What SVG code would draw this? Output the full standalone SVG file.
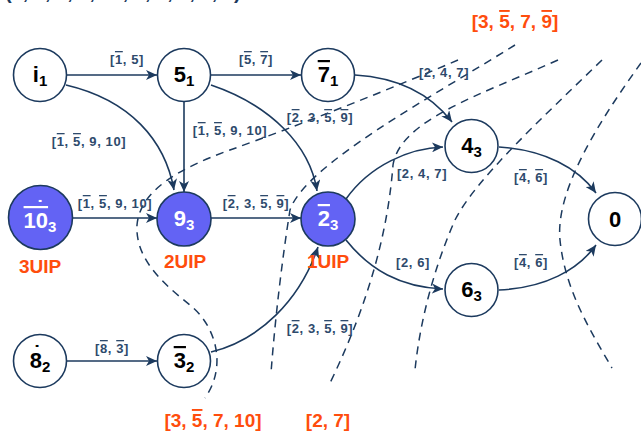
<svg xmlns="http://www.w3.org/2000/svg" width="641" height="432" viewBox="0 0 641 432">
<defs>
<marker id="arr" markerUnits="userSpaceOnUse" markerWidth="12" markerHeight="10" refX="11" refY="5" orient="auto">
<path d="M0,0 L11,5 L0,10 L3,5 z" fill="#1c3a5e"/>
</marker>
<style>
.n{fill:#fff;stroke:#1c3a5e;stroke-width:1.6}
.f{fill:#6363f4;stroke:#1c3a5e;stroke-width:1.6}
.t{font-family:"Liberation Sans",Arial,sans-serif;font-weight:bold;font-size:22px;fill:#000;text-anchor:middle}
.tw{fill:#fff}
.s{font-size:15px}
.dot{font-size:20px}
.e{fill:none;stroke:#1c3a5e;stroke-width:1.6}
.d{fill:none;stroke:#1c3a5e;stroke-width:1.5;stroke-dasharray:8 6}
.l{font-family:"Liberation Sans",Arial,sans-serif;font-weight:bold;font-size:13px;letter-spacing:0.6px;fill:#2e4a6c;text-anchor:middle}
.o{font-family:"Liberation Sans",Arial,sans-serif;font-weight:bold;font-size:19px;fill:#ff4d0d;text-anchor:middle}
.ov{text-decoration:overline}
</style>
</defs>
<text x="5" y="-1" style="font-family:'Liberation Sans',Arial,sans-serif;font-weight:bold;font-size:20px;fill:#1c3a5e">(1, 5, 7, 9, 10, 2, 3, 4, 6, 8)</text>
<g id="cuts">
<path class="d" d="M458,60 C400,85 300,125 230,150 C180,168 140,190 137,225 C135,260 165,285 190,305 C215,325 228,365 205,398"/>
<path class="d" d="M515,45 C430,98 305,165 290,210 C282,260 275,320 271,373"/>
<path class="d" d="M558,60 C480,95 400,120 393,165 C388,230 370,300 330,383"/>
<path class="d" d="M602,60 C540,120 475,180 455,220 C435,265 420,320 415,370"/>
<path class="d" d="M641,63 C600,120 555,190 560,240 C565,290 590,330 612,368"/>
</g>
<g id="connectors">
<path class="e" marker-end="url(#arr)" d="M67,75 L157,75"/>
<path class="e" marker-end="url(#arr)" d="M211,75 L301,75"/>
<path class="e" marker-end="url(#arr)" d="M184,102 L184,192"/>
<path class="e" marker-end="url(#arr)" d="M66,85 C130,100 165,140 174,190"/>
<path class="e" marker-end="url(#arr)" d="M211,85 C270,105 310,145 317,191"/>
<path class="e" marker-end="url(#arr)" d="M355,75 C405,78 435,100 452,122"/>
<path class="e" marker-end="url(#arr)" d="M73,218 L157,218"/>
<path class="e" marker-end="url(#arr)" d="M211,218 L301,218"/>
<path class="e" marker-end="url(#arr)" d="M346,199 C370,165 410,148 443,147"/>
<path class="e" marker-end="url(#arr)" d="M346,240 C370,270 400,287 443,289"/>
<path class="e" marker-end="url(#arr)" d="M499,147 C545,150 578,168 596,193"/>
<path class="e" marker-end="url(#arr)" d="M499,290 C545,288 578,270 596,245"/>
<path class="e" marker-end="url(#arr)" d="M67,361 L157,361"/>
<path class="e" marker-end="url(#arr)" d="M211,352 C260,340 300,300 318,247"/>
<text class="l" x="127" y="64">[<tspan class="ov">1</tspan>, 5]</text>
<text class="l" x="256" y="64">[<tspan class="ov">5</tspan>, <tspan class="ov">7</tspan>]</text>
<text class="l" x="89" y="146">[<tspan class="ov">1</tspan>, <tspan class="ov">5</tspan>, 9, 10]</text>
<text class="l" x="230" y="135">[<tspan class="ov">1</tspan>, <tspan class="ov">5</tspan>, 9, 10]</text>
<text class="l" x="320" y="122">[<tspan class="ov">2</tspan>, 3, <tspan class="ov">5</tspan>, <tspan class="ov">9</tspan>]</text>
<text class="l" x="444" y="77">[2, 4, 7]</text>
<text class="l" x="115" y="208">[<tspan class="ov">1</tspan>, <tspan class="ov">5</tspan>, 9, 10]</text>
<text class="l" x="256" y="208">[<tspan class="ov">2</tspan>, 3, <tspan class="ov">5</tspan>, <tspan class="ov">9</tspan>]</text>
<text class="l" x="422" y="178">[2, 4, 7]</text>
<text class="l" x="531" y="182">[<tspan class="ov">4</tspan>, <tspan class="ov">6</tspan>]</text>
<text class="l" x="413" y="267">[2, 6]</text>
<text class="l" x="531" y="267">[<tspan class="ov">4</tspan>, <tspan class="ov">6</tspan>]</text>
<text class="l" x="112" y="353">[<tspan class="ov">8</tspan>, <tspan class="ov">3</tspan>]</text>
<text class="l" x="320" y="333">[<tspan class="ov">2</tspan>, 3, <tspan class="ov">5</tspan>, <tspan class="ov">9</tspan>]</text>
</g>
<g id="n_i1"><circle class="n" cx="40" cy="75" r="26.5"/><text class="t" x="40" y="82">i<tspan class="s" dy="4">1</tspan></text></g>
<g id="n_51"><circle class="n" cx="184" cy="75" r="26.5"/><text class="t" x="184" y="82">5<tspan class="s" dy="4">1</tspan></text></g>
<g id="n_71"><circle class="n" cx="328" cy="75" r="26.5"/><text class="t" x="328" y="82"><tspan class="ov">7</tspan><tspan class="s" dy="4">1</tspan></text></g>
<g id="n_43"><circle class="n" cx="471.5" cy="146" r="26.5"/><text class="t" x="471.5" y="153">4<tspan class="s" dy="4">3</tspan></text></g>
<g id="n_0"><circle class="n" cx="615" cy="219" r="26.5"/><text class="t" x="615" y="227">0</text></g>
<g id="n_63"><circle class="n" cx="471.5" cy="290" r="26.5"/><text class="t" x="471.5" y="297">6<tspan class="s" dy="4">3</tspan></text></g>
<g id="n_103"><circle class="f" cx="40.5" cy="217.5" r="32"/><text class="t tw"><tspan class="dot" x="40" y="215">˙</tspan><tspan class="ov" x="40" y="228">10</tspan><tspan class="s" dy="4">3</tspan></text><text class="o" x="40" y="273">3UIP</text></g>
<g id="n_93"><circle class="f" cx="184" cy="219" r="27"/><text class="t tw" x="184" y="226">9<tspan class="s" dy="4">3</tspan></text><text class="o" x="185" y="268">2UIP</text></g>
<g id="n_23"><circle class="f" cx="328" cy="219" r="27"/><text class="t tw" x="328" y="226"><tspan class="ov">2</tspan><tspan class="s" dy="4">3</tspan></text><text class="o" x="328" y="268">1UIP</text></g>
<g id="n_82"><circle class="n" cx="40" cy="361" r="26.5"/><text class="t"><tspan class="dot" x="37" y="360">˙</tspan><tspan x="40" y="368">8</tspan><tspan class="s" dy="4">2</tspan></text></g>
<g id="n_32"><circle class="n" cx="184" cy="361" r="26.5"/><text class="t" x="184" y="368"><tspan class="ov">3</tspan><tspan class="s" dy="4">2</tspan></text></g>
<g id="cut_labels">
<text class="o" x="515" y="28">[3, <tspan class="ov">5</tspan>, 7, <tspan class="ov">9</tspan>]</text>
<text class="o" x="213" y="427">[3, <tspan class="ov">5</tspan>, 7, 10]</text>
<text class="o" x="328" y="427">[2, 7]</text>
</g>
</svg>
